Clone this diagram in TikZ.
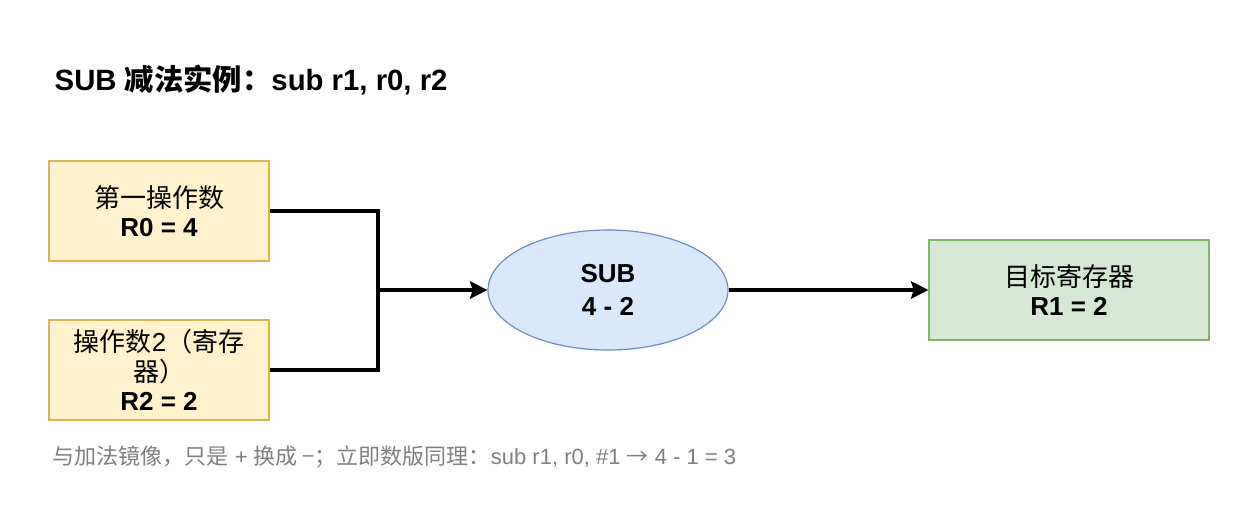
\documentclass[tikz,border=0pt]{standalone}
\usepackage{fontspec}
\setmainfont{Liberation Sans}
\newfontfamily\cjk{Noto Sans CJK SC}
\newcommand{\zh}[1]{{\cjk #1}}
\usetikzlibrary{shapes.geometric,arrows.meta}
\definecolor{yf}{HTML}{FFF2CC}\definecolor{ys}{HTML}{D6B656}
\definecolor{bf}{HTML}{DAE8FC}\definecolor{bs}{HTML}{6C8EBF}
\definecolor{gf}{HTML}{D5E8D4}\definecolor{gs}{HTML}{82B366}
\definecolor{ft}{HTML}{808080}
\begin{document}
\begin{tikzpicture}[x=0.75pt,y=-0.75pt,
  box/.style={draw,line width=0.9pt,minimum width=165pt,minimum height=75pt,align=center,font=\fontsize{19.5}{22}\selectfont,inner sep=0pt},
  conn/.style={line width=2.4pt},
  arr/.style={conn,-{Stealth[length=13pt,width=13pt,inset=2pt]}}]
\useasboundingbox[fill=white] (0,0) rectangle (1260,518);
\node[anchor=west,font=\fontsize{22}{26}\selectfont\bfseries] (t) at (50,80) {SUB \zh{减法实例：}sub r1, r0, r2};
\node[box,fill=yf,draw=ys] (a) at (159,211) {\zh{第一操作数}\\\textbf{R0 = 4}};
\node[box,fill=yf,draw=ys] (b) at (159,370) {\zh{操作数}2\zh{（寄存}\\\zh{器）}\\\textbf{R2 = 2}};
\node[ellipse,draw=bs,fill=bf,line width=0.9pt,minimum width=180pt,minimum height=90pt,inner sep=0pt,align=center,font=\fontsize{19.5}{25}\selectfont\bfseries] (e) at (608,290) {SUB\\4 - 2};
\node[box,fill=gf,draw=gs,minimum width=210pt] (c) at (1069,290) {\zh{目标寄存器}\\\textbf{R1 = 2}};
\coordinate (j) at (378,290);
\draw[conn] (a.east) -- (a.east -| j) -- (j);
\draw[conn] (b.east) -- (b.east -| j) -- (j);
\draw[arr] (j) -- (e.west);
\draw[arr] (e.east) -- (c.west);
\node[anchor=west,text=ft,font=\fontsize{16.5}{19}\selectfont] (n) at (48,457) {\zh{与加法镜像，只是} + \zh{换成 −；立即数版同理：}sub r1, r0, \#1 \zh{→} 4 - 1 = 3};
\end{tikzpicture}
\end{document}
